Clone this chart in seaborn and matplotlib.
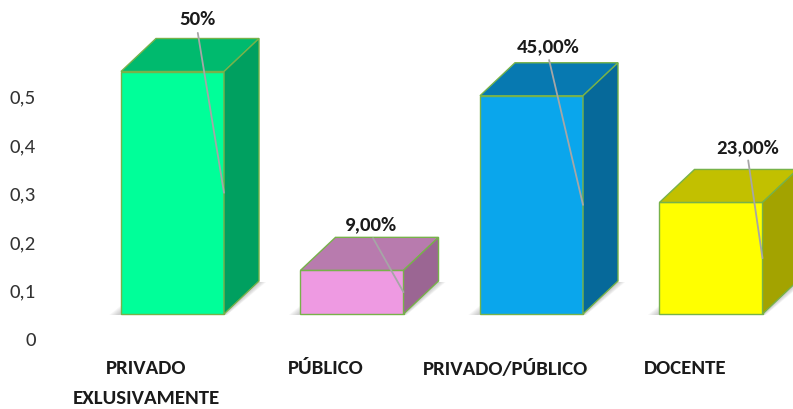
import matplotlib
matplotlib.use("Agg")
import matplotlib.pyplot as plt
from matplotlib.patches import Polygon
from matplotlib.transforms import ScaledTranslation, IdentityTransform
import seaborn as sns
import pandas as pd

# ---- data ----
categories = ["PRIVADO\nEXLUSIVAMENTE", "PÚBLICO", "PRIVADO/PÚBLICO", "DOCENTE"]
values = [0.50, 0.09, 0.45, 0.23]
value_labels = ["50%", "9,00%", "45,00%", "23,00%"]
ytick_values = [0.0, 0.1, 0.2, 0.3, 0.4, 0.5]
ytick_labels = ["0", "0,1", "0,2", "0,3", "0,4", "0,5"]

# ---- styling ----
front_colors = ["#00FF99", "#EE9AE2", "#0AA6EC", "#FFFF00"]
top_colors = ["#00BA6E", "#B87BAE", "#0779B1", "#C2C000"]
side_colors = ["#00A060", "#9B6693", "#06699A", "#A3A300"]
edge_color = "#77B24A"
depth_px = (35, 33)                      # extrusion of the 3D boxes, pixels
label_offsets_px = [(-27, 173), (-33, 67), (-35, 158), (-15, 111)]
text_color = "#1A1A1A"
font = "Carlito"

DPI = 100
W, H = 793, 409

sns.set_theme(style="white")
plt.rcParams["font.family"] = [font, "DejaVu Sans"]

fig = plt.figure(figsize=(W / DPI, H / DPI), dpi=DPI)
ax_left_px, ax_bottom_px = 48, 340
ax = fig.add_axes([ax_left_px / W, (H - ax_bottom_px) / H,
                   1 - ax_left_px / W, ax_bottom_px / H])

df = pd.DataFrame({"cat": categories, "val": values})
sns.barplot(data=df, x="cat", y="val", hue="cat", palette=front_colors,
            legend=False, width=0.574, edgecolor=edge_color, linewidth=1.0,
            saturation=1, ax=ax, zorder=3)

ax.set_xlim(-124.5 / 179.5, (W - ax_left_px - 124.5) / 179.5)
ax.set_ylim(-26 / 485, 314 / 485)

for s in ax.spines.values():
    s.set_visible(False)
ax.grid(False)
ax.set_xlabel("")
ax.set_ylabel("")

# y axis labels sit slightly below the bar floor (3D projection)
ax.set_yticks(ytick_values)
ax.set_yticklabels(ytick_labels)
ax.tick_params(axis="y", length=0, pad=9, labelsize=15, labelcolor="#333333")
for lab in ax.get_yticklabels():
    lab.set_transform(lab.get_transform() + ScaledTranslation(0, -25 / DPI, fig.dpi_scale_trans))

ax.set_xticks(range(len(categories)))
ax.set_xticklabels(categories, fontweight="bold", linespacing=1.95)
ax.tick_params(axis="x", length=0, pad=14.5, labelsize=15, labelcolor=text_color)
for lab in ax.get_xticklabels():
    lab.set_transform(lab.get_transform() + ScaledTranslation(-26 / DPI, 0, fig.dpi_scale_trans))

# 3D faces and floor shadows built from the bar patches
dx, dy = depth_px
to_disp = ax.transData.transform
for i, bar in enumerate(ax.patches):
    x0, y0 = bar.get_x(), bar.get_y()
    x1, y1 = x0 + bar.get_width(), y0 + bar.get_height()
    (px0, py0), (px1, py1) = to_disp([(x0, y0), (x1, y1)])

    # soft floor shadow
    for k in range(6, 0, -1):
        shadow = [(px0 - 2 - k * 1.6, py0 - 1), (px1 + k * 0.5, py0 - 1),
                  (px1 + dx + k * 1.2, py0 + dy - 1), (px0 + dx - k, py0 + dy - 1)]
        ax.add_patch(Polygon(shadow, closed=True, transform=IdentityTransform(),
                             facecolor="#808080", edgecolor="none", alpha=0.07,
                             zorder=1, clip_on=False))

    top = [(px0, py1), (px1, py1), (px1 + dx, py1 + dy), (px0 + dx, py1 + dy)]
    side = [(px1, py0), (px1 + dx, py0 + dy), (px1 + dx, py1 + dy), (px1, py1)]
    ax.add_patch(Polygon(top, closed=True, transform=IdentityTransform(),
                         facecolor=top_colors[i], edgecolor=edge_color, lw=1.0,
                         zorder=4, clip_on=False))
    ax.add_patch(Polygon(side, closed=True, transform=IdentityTransform(),
                         facecolor=side_colors[i], edgecolor=edge_color, lw=1.0,
                         zorder=4, clip_on=False))

    # value label with a leader line to the middle of the front edge
    ox, oy = label_offsets_px[i]
    ax.annotate(value_labels[i], xy=(x1, y0 + (y1 - y0) / 2), xycoords="data",
                xytext=(ox, oy), textcoords="offset pixels",
                ha="center", va="center", fontsize=15, fontweight="bold",
                color=text_color, zorder=6, annotation_clip=False,
                arrowprops=dict(arrowstyle="-", color="#A6A6A6", lw=1.3,
                                relpos=(0.5, 0.0), shrinkA=1, shrinkB=0))

fig.savefig("out.png", dpi=DPI)
